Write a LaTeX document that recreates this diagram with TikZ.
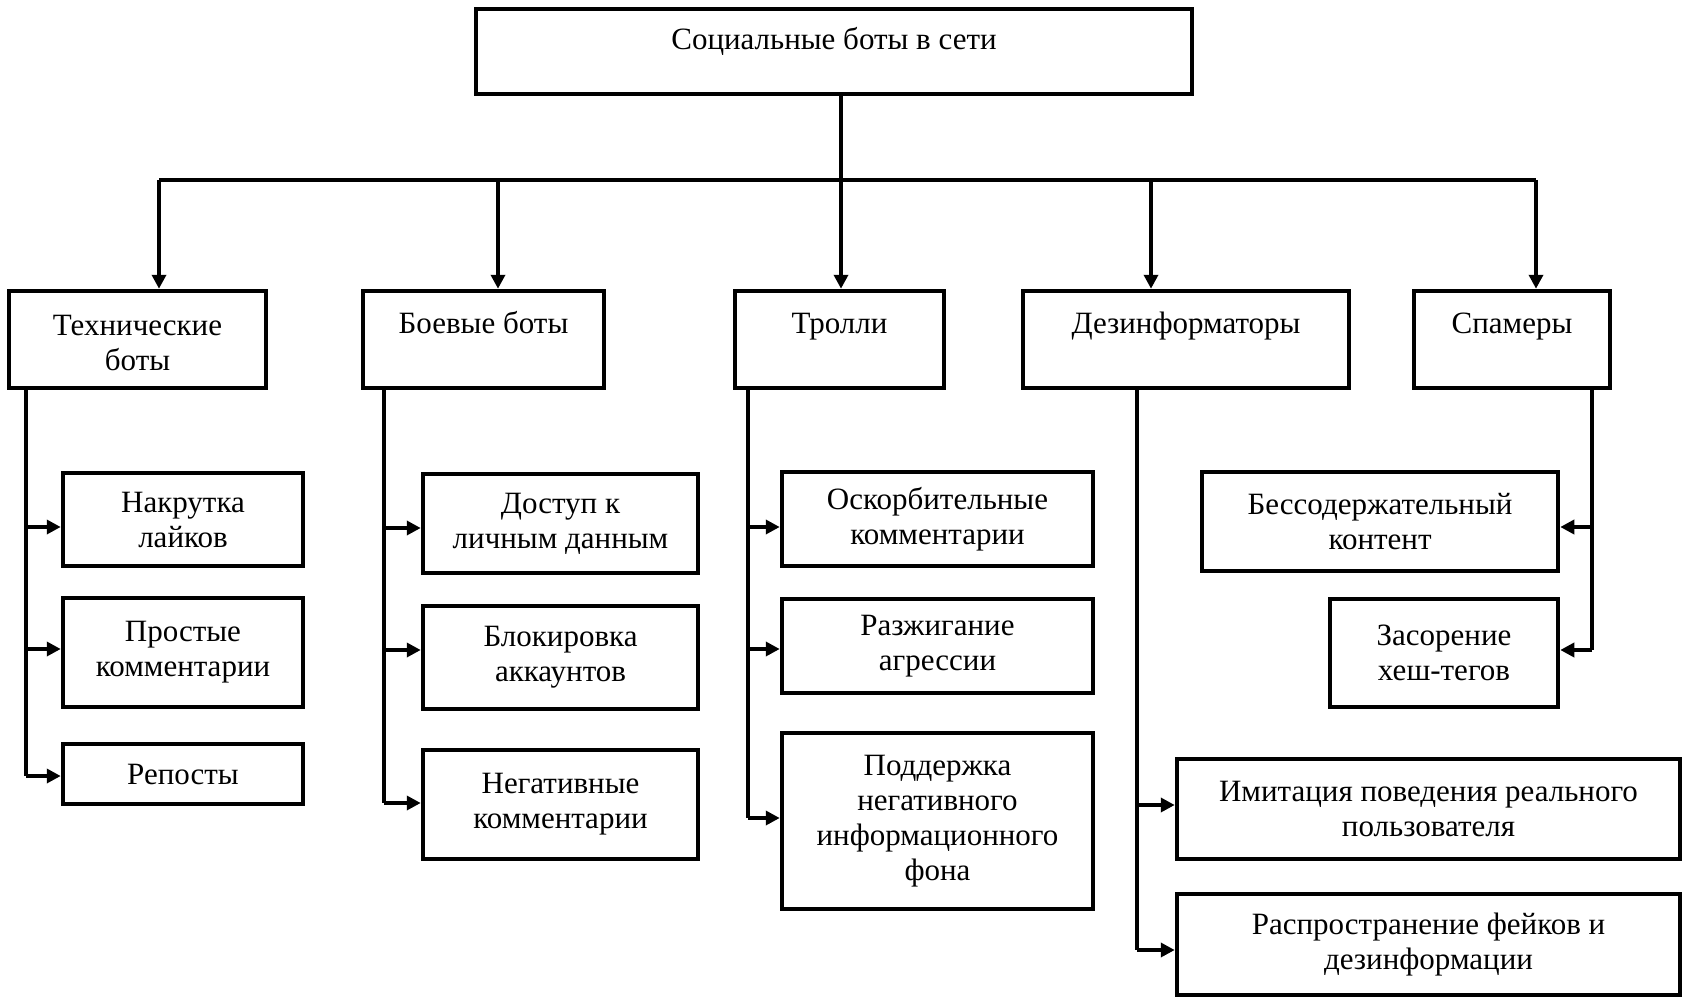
\documentclass[tikz,border=0pt]{standalone}
\usepackage{fontspec}
\setmainfont{Liberation Serif}
\usetikzlibrary{arrows.meta}
\begin{document}
\begin{tikzpicture}[x=1pt,y=-1pt,
 box/.style={draw, line width=4.5pt, rectangle, inner sep=0pt, align=center, font=\fontsize{31}{35}\selectfont},
 ttl/.style={anchor=base, align=center, inner sep=0pt, font=\fontsize{31}{35}\selectfont},
 conn/.style={line width=3.5pt},
 arr/.style={line width=3.5pt, -{Triangle[length=14pt,width=14pt]}},
]
\fill[white] (0,0) rectangle (1685,1000);
\useasboundingbox (0,0) rectangle (1685,1000);

% root
\node[box, minimum width=716pt, minimum height=85pt] (root) at (834,51.5) {};
\node[ttl] (rootT) at (834,50) {Социальные боты в сети};

% level 2
\node[box, minimum width=257pt, minimum height=97pt] (tech) at (137.5,339.5) {};
\node[ttl] (techT) at (137.5,370) {Технические\\боты};
\node[box, minimum width=241pt, minimum height=97pt] (boev) at (483.5,339.5) {};
\node[ttl] (boevT) at (483.5,333) {Боевые боты};
\node[box, minimum width=209pt, minimum height=97pt] (troll) at (839.5,339.5) {};
\node[ttl] (trollT) at (839.5,333) {Тролли};
\node[box, minimum width=326pt, minimum height=97pt] (dezin) at (1186,339.5) {};
\node[ttl] (dezinT) at (1186,333) {Дезинформаторы};
\node[box, minimum width=196pt, minimum height=97pt] (spam) at (1512,339.5) {};
\node[ttl] (spamT) at (1512,333) {Спамеры};

% bus
\coordinate (rb) at (841,180);
\coordinate (b1) at (159,180);
\coordinate (b2) at (498,180);
\coordinate (b4) at (1151,180);
\coordinate (b5) at (1536,180);
\draw[conn] (rb |- root.south) -- (rb);
\draw[conn] (b1) -- (b5);
\draw[arr] (b1) -- (b1 |- tech.north);
\draw[arr] (b2) -- (b2 |- boev.north);
\draw[arr] (rb) -- (rb |- troll.north);
\draw[arr] (b4) -- (b4 |- dezin.north);
\draw[arr] (b5) -- (b5 |- spam.north);

% technical bots
\node[box, minimum width=240pt, minimum height=93pt] (n1) at (183,519.5) {Накрутка\\лайков};
\node[box, minimum width=240pt, minimum height=109pt] (n2) at (183,652.5) {Простые\\комментарии};
\node[box, minimum width=240pt, minimum height=60pt] (n3) at (183,774) {Репосты};
\coordinate (ta1) at (26,527);
\coordinate (ta2) at (26,649);
\coordinate (ta3) at (26,776);
\draw[conn] (ta3 |- tech.south) -- (ta3);
\draw[arr] (ta1) -- (ta1 -| n1.west);
\draw[arr] (ta2) -- (ta2 -| n2.west);
\draw[arr] (ta3) -- (ta3 -| n3.west);

% combat bots
\node[box, minimum width=275pt, minimum height=99pt] (c1) at (560.5,523.5) {Доступ к\\личным данным};
\node[box, minimum width=275pt, minimum height=103pt] (c2) at (560.5,657.5) {Блокировка\\аккаунтов};
\node[box, minimum width=275pt, minimum height=109pt] (c3) at (560.5,804.5) {Негативные\\комментарии};
\coordinate (ca1) at (384,528);
\coordinate (ca2) at (384,650);
\coordinate (ca3) at (384,803);
\draw[conn] (ca3 |- boev.south) -- (ca3);
\draw[arr] (ca1) -- (ca1 -| c1.west);
\draw[arr] (ca2) -- (ca2 -| c2.west);
\draw[arr] (ca3) -- (ca3 -| c3.west);

% trolls
\node[box, minimum width=311pt, minimum height=94pt] (t1) at (937.5,519) {Оскорбительные\\комментарии};
\node[box, minimum width=311pt, minimum height=94pt] (t2) at (937.5,646) {Разжигание\\агрессии};
\node[box, minimum width=311pt, minimum height=176pt] (t3) at (937.5,821) {Поддержка\\негативного\\информационного\\фона};
\coordinate (ra1) at (748,527);
\coordinate (ra2) at (748,649);
\coordinate (ra3) at (748,818);
\draw[conn] (ra3 |- troll.south) -- (ra3);
\draw[arr] (ra1) -- (ra1 -| t1.west);
\draw[arr] (ra2) -- (ra2 -| t2.west);
\draw[arr] (ra3) -- (ra3 -| t3.west);

% disinformers
\node[box, minimum width=503pt, minimum height=100pt] (d1) at (1428.5,809) {Имитация поведения реального\\пользователя};
\node[box, minimum width=503pt, minimum height=101pt] (d2) at (1428.5,944.5) {Распространение фейков и\\дезинформации};
\coordinate (da1) at (1137,805);
\coordinate (da2) at (1137,950);
\draw[conn] (da2 |- dezin.south) -- (da2);
\draw[arr] (da1) -- (da1 -| d1.west);
\draw[arr] (da2) -- (da2 -| d2.west);

% spammers
\node[box, minimum width=356pt, minimum height=99pt] (s1) at (1380,521.5) {Бессодержательный\\контент};
\node[box, minimum width=228pt, minimum height=108pt] (s2) at (1444,653) {Засорение\\хеш-тегов};
\coordinate (sa1) at (1592,527);
\coordinate (sa2) at (1592,650);
\draw[conn] (sa2 |- spam.south) -- (sa2);
\draw[arr] (sa1) -- (sa1 -| s1.east);
\draw[arr] (sa2) -- (sa2 -| s2.east);
\end{tikzpicture}
\end{document}
